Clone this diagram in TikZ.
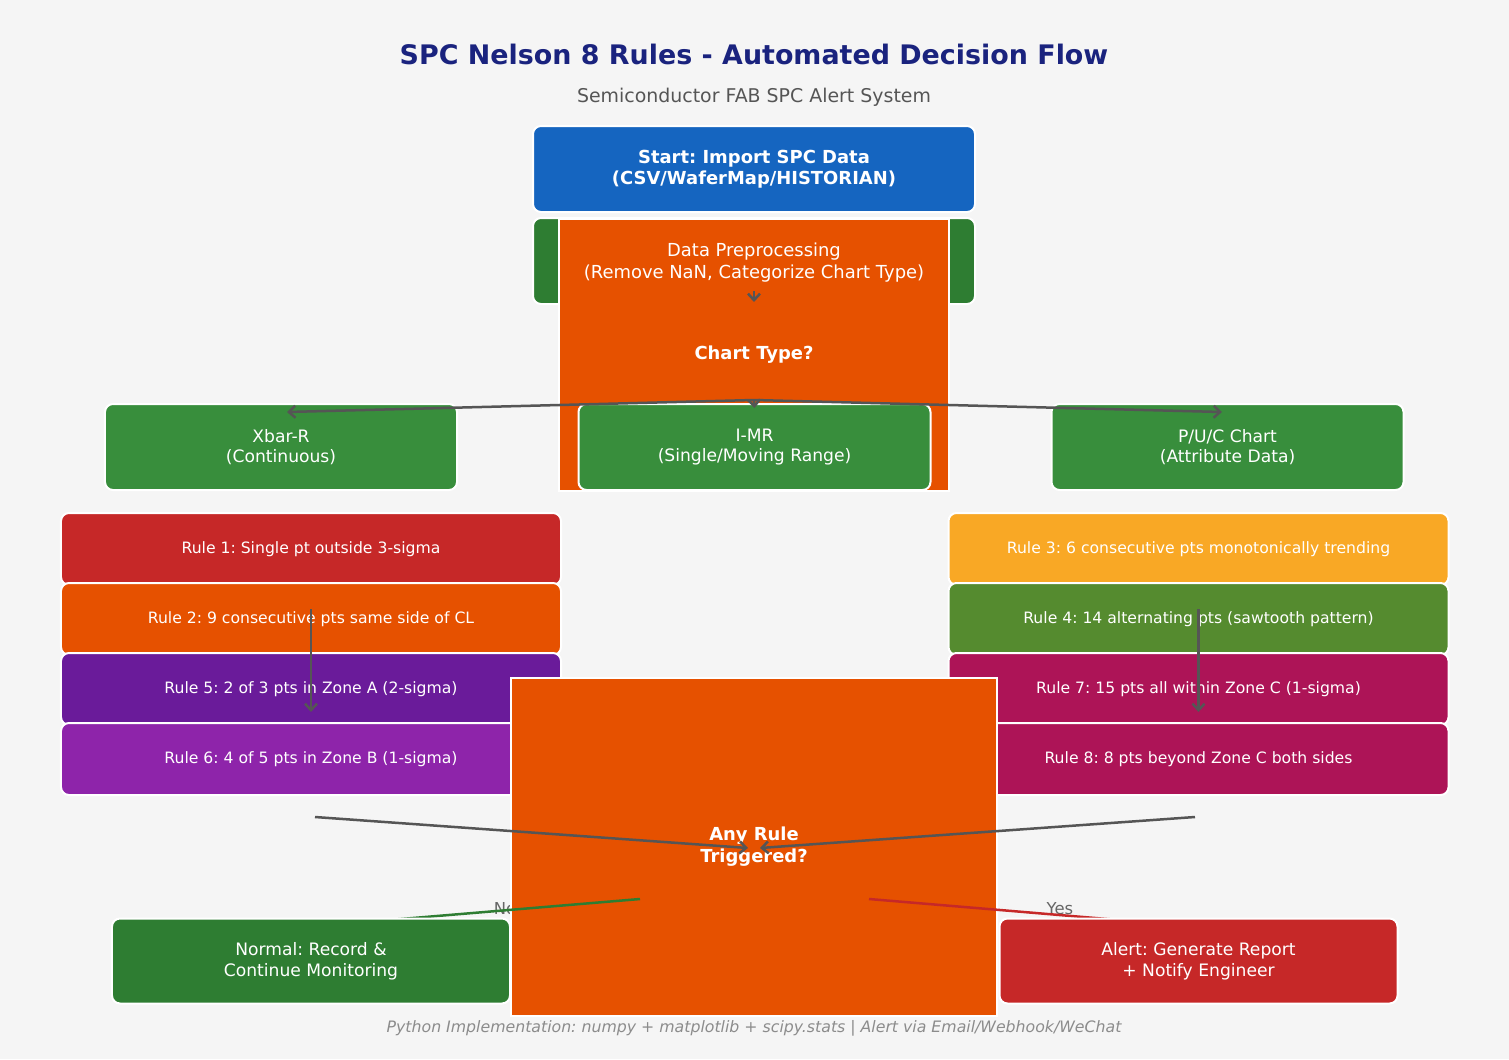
\documentclass[tikz,border=0pt]{standalone}
\usepackage{fontspec}
\setmainfont{DejaVu Sans}
\usetikzlibrary{arrows.meta}
\frenchspacing

\definecolor{bgcol}{HTML}{F5F5F5}
\definecolor{navy}{HTML}{1A237E}
\definecolor{startblue}{HTML}{1565C0}
\definecolor{darkgreen}{HTML}{2E7D32}
\definecolor{decorange}{HTML}{E65100}
\definecolor{midgreen}{HTML}{388E3C}
\definecolor{rulered}{HTML}{C62828}
\definecolor{rulepurple}{HTML}{6A1B9A}
\definecolor{ruleviolet}{HTML}{8E24AA}
\definecolor{ruleamber}{HTML}{F9A825}
\definecolor{ruleolive}{HTML}{558B2F}
\definecolor{rulepink}{HTML}{AD1457}
\definecolor{arrowgray}{HTML}{555555}

\begin{document}
\begin{tikzpicture}[x=1bp,y=-1bp,
  box/.style={rectangle, rounded corners=8bp, draw=white, line width=2bp, text=white, align=center, inner sep=0pt},
  decision/.style={rectangle, draw=white, line width=2bp, fill=decorange, text=white, align=center, inner sep=0pt, font=\fontsize{18}{22}\selectfont\bfseries},
  branchbox/.style={box, fill=midgreen, minimum width=352bp, minimum height=86bp, font=\fontsize{17.2}{20.5}\selectfont},
  rulebox/.style={box, minimum width=500bp, minimum height=72bp, font=\fontsize{15.7}{19}\selectfont},
  endbox/.style={box, minimum width=398bp, minimum height=85bp, font=\fontsize{17.2}{21}\selectfont},
  flow/.style={draw=arrowgray, line width=2.5bp, -{Straight Barb[length=6.5bp,width=12bp]}}]

% canvas
\fill[bgcol] (0,0) rectangle (1509,1059);

\node[text=navy, font=\fontsize{27}{32}\selectfont\bfseries] (title) at (754,54) {SPC Nelson 8 Rules - Automated Decision Flow};
\node[text=arrowgray, font=\fontsize{19}{23}\selectfont] (subtitle) at (754,97) {Semiconductor FAB SPC Alert System};

% top of the flow
\node[box, fill=startblue, minimum width=442bp, minimum height=86bp, font=\fontsize{18}{21}\selectfont\bfseries] (start) at (754,169) {Start: Import SPC Data\\(CSV/WaferMap/HISTORIAN)};
\node[box, fill=darkgreen, minimum width=442bp, minimum height=86bp] (prep) at (754,261) {};
\node[decision, minimum width=390bp, minimum height=272bp] (chart) at (754,355) {Chart Type?};
\node[text=white, align=center, font=\fontsize{18}{22}\selectfont] (preptext) at ([yshift=-1.5bp]prep.center) {Data Preprocessing\\(Remove NaN, Categorize Chart Type)};

\node[branchbox] (xbar) at (281,447) {Xbar-R\\(Continuous)};
\node[branchbox] (imr) at (754.5,447) {I-MR\\(Single/Moving Range)};
\node[branchbox] (puc) at (1227.5,447) {P/U/C Chart\\(Attribute Data)};

\draw[flow] ([yshift=-30bp]prep.center) -- ([yshift=-41bp]prep.center);
\draw[flow] ([yshift=-45bp]chart.center) -- ([shift={(6bp,-9bp)}]xbar.north);
\draw[flow] ([yshift=-45bp]chart.center) -- ([yshift=-5bp]imr.north);
\draw[flow] ([yshift=-45bp]chart.center) -- ([shift={(-5.5bp,-9bp)}]puc.north);

% the eight rules
\foreach \name/\y/\col/\txt in {r1/549/rulered/Rule 1: Single pt outside 3-sigma,
    r2/619/decorange/Rule 2: 9 consecutive pts same side of CL,
    r5/689/rulepurple/Rule 5: 2 of 3 pts in Zone A (2-sigma),
    r6/759/ruleviolet/Rule 6: 4 of 5 pts in Zone B (1-sigma)}{
  \node[rulebox, fill=\col] (\name) at (311,\y) {\txt};
}
\foreach \name/\y/\col/\txt in {r3/549/ruleamber/Rule 3: 6 consecutive pts monotonically trending,
    r4/619/ruleolive/Rule 4: 14 alternating pts (sawtooth pattern),
    r7/689/rulepink/Rule 7: 15 pts all within Zone C (1-sigma),
    r8/759/rulepink/Rule 8: 8 pts beyond Zone C both sides}{
  \node[rulebox, fill=\col] (\name) at (1198.5,\y) {\txt};
}
\draw[flow] ([yshift=10bp]r2.center) -- ([yshift=-23bp]r5.center);
\draw[flow] ([yshift=10bp]r4.center) -- ([yshift=-23bp]r7.center);

% outcome
\node[text=gray!80!black, font=\fontsize{16.5}{19}\selectfont] (nolabel) at (505,909) {No};
\node[text=gray!80!black, font=\fontsize{16.5}{19}\selectfont] (yeslabel) at (1060,909) {Yes};

\node[decision, minimum width=486bp, minimum height=338bp] (anyrule) at (754,847) {Any Rule\\Triggered?};

\coordinate (leftgather) at (315,817);
\coordinate (rightgather) at (1195,817);
\draw[flow] (leftgather) -- ([shift={(-6bp,-1bp)}]anyrule.center);
\draw[flow] (rightgather) -- ([shift={(6bp,-1bp)}]anyrule.center);

\coordinate (nostart) at (640,899);
\coordinate (yesstart) at (869,899);
\draw[darkgreen, line width=2.5bp] (nostart) -- (395,919.5);
\draw[rulered, line width=2.5bp] (yesstart) -- (1113,919.5);

\node[endbox, fill=darkgreen] (normal) at (311,961) {Normal: Record \&\\Continue Monitoring};
\node[endbox, fill=rulered] (alert) at (1198.5,961) {Alert: Generate Report\\+ Notify Engineer};

\node[text=gray!90, font=\fontsize{15.8}{19}\selectfont\itshape] (footer) at (754,1028) {Python Implementation: numpy + matplotlib + scipy.stats | Alert via Email/Webhook/WeChat};

\end{tikzpicture}
\end{document}
